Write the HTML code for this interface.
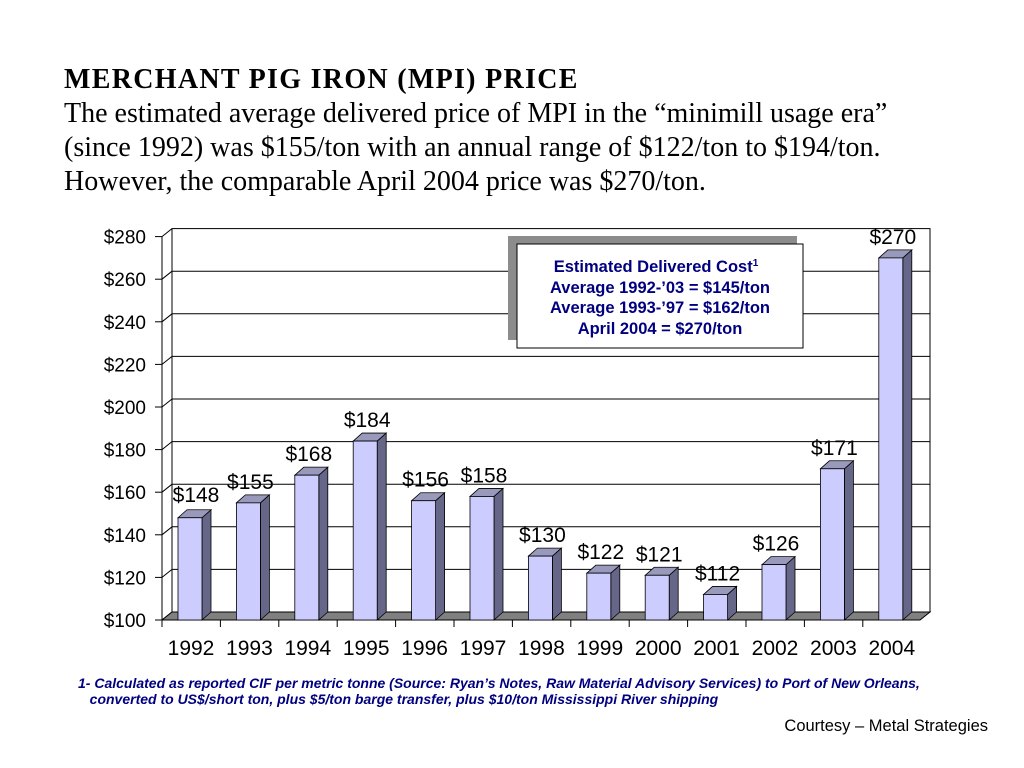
<!DOCTYPE html>
<html><head><meta charset="utf-8"><style>
body{margin:0;width:1024px;height:768px;background:#fff;overflow:hidden;position:relative;font-family:"Liberation Sans",sans-serif}
.t{position:absolute;left:64px;font-family:"Liberation Serif",serif;font-size:28px;line-height:34px;color:#000;white-space:nowrap}
</style></head><body>
<div class="t" style="top:63px"><b style="letter-spacing:1.3px">MERCHANT PIG IRON (MPI) PRICE</b><br>The estimated average delivered price of MPI in the “minimill usage era”<br>(since 1992) was $155/ton with an annual range of $122/ton to $194/ton.<br>However, the comparable April 2004 price was $270/ton.</div>
<svg id="c" width="1024" height="768" style="position:absolute;left:0;top:0"></svg>
<div style="position:absolute;left:78px;top:675px;font:italic bold 14px 'Liberation Sans',sans-serif;color:#000080;line-height:16px;white-space:nowrap">1- Calculated as reported CIF per metric tonne (Source: Ryan’s Notes, Raw Material Advisory Services) to Port of New Orleans,<br>&nbsp;&nbsp;&nbsp;converted to US$/short ton, plus $5/ton barge transfer, plus $10/ton Mississippi River shipping</div>
<div style="position:absolute;right:36px;top:717px;font-size:16.5px">Courtesy – Metal Strategies</div>
<script>
const years=["1992","1993","1994","1995","1996","1997","1998","1999","2000","2001","2002","2003","2004"];
const prices=[148,155,168,184,156,158,130,122,121,112,126,171,270];
const yTicks=[100,120,140,160,180,200,220,240,260,280];
const NS="http://www.w3.org/2000/svg",svg=document.getElementById('c');
function el(t,a,txt){const e=document.createElementNS(NS,t);for(const k in a)e.setAttribute(k,a[k]);if(txt!=null)e.textContent=txt;svg.appendChild(e);return e;}
const x0=162,base=620,dx=10,dy=8,k=2.13,step=58.4,first=190;
const y=v=>base-(v-100)*k, xc=i=>first+i*step;
let w=el('rect',{x:x0+dx,y:y(280)-dy,width:758,height:y(100)-y(280),fill:'#fff',stroke:'#000','stroke-width':1});

yTicks.forEach(v=>{
 if(v>100&&v<280){let g=el('line',{x1:x0+dx,x2:x0+dx+758,y1:y(v)-dy,y2:y(v)-dy,stroke:'#000'});}
 let d=el('line',{x1:x0,y1:y(v),x2:x0+dx,y2:y(v)-dy,stroke:'#000'});
 let t=el('line',{x1:x0-7,x2:x0,y1:y(v),y2:y(v),stroke:'#000'});
 let l=el('text',{x:x0-16,y:y(v)+7,'text-anchor':'end','font-size':19},'$'+v);
});
let fl=el('polygon',{points:`${x0},${base} ${x0+dx},${base-dy} ${x0+dx+758},${base-dy} ${x0+758},${base}`,fill:'#808080',stroke:'#000'});

let ax=el('line',{x1:x0,x2:x0,y1:y(280),y2:base,stroke:'#000'});
let bx=el('line',{x1:x0,x2:x0+758,y1:base,y2:base,stroke:'#000'});
years.forEach((yr,i)=>{
 let tk=el('line',{x1:x0+i*step,x2:x0+i*step,y1:base,y2:base+7,stroke:'#000'});
 const c=xc(i),L=c-12,R=c+12,T=y(prices[i]);
 let s=el('polygon',{points:`${R},${base} ${R},${T} ${R+dx-1},${T-dy} ${R+dx-1},${base-dy}`,fill:'#666688',stroke:'#000','stroke-width':0.8});
 
 let tp=el('polygon',{points:`${L},${T} ${L+dx-1},${T-dy} ${R+dx-1},${T-dy} ${R},${T}`,fill:'#9999bb',stroke:'#000','stroke-width':0.8});
 
 let b=el('rect',{x:L,y:T,width:24,height:base-T,fill:'#ccccff',stroke:'#000','stroke-width':0.8});
 
 let v=el('text',{x:c+(i==0?6:2),y:T-(i==0?16:14),'text-anchor':'middle','font-size':21},'$'+prices[i]);
 
 let xl=el('text',{x:c+1,y:655,'text-anchor':'middle','font-size':21},yr);
 
});
let sh=el('rect',{x:508,y:236,width:289,height:104,fill:'#8c8c8c'});
let bx2=el('rect',{x:517,y:244,width:286,height:104,fill:'#fff',stroke:'#000'});
[["Estimated Delivered Cost",272],["Average 1992-’03 = $145/ton",293],["Average 1993-’97 = $162/ton",313],["April 2004 =  $270/ton",334]].forEach((a,i)=>{
 let t=el('text',{x:i==0?656:660,y:a[1],'text-anchor':'middle','font-size':16.5,'font-weight':'bold',fill:'#000080','xml:space':'preserve'},a[0]);
 
 if(i==0){const s=document.createElementNS(NS,'tspan');s.setAttribute('font-size',10);s.setAttribute('dy',-6);s.textContent='1';t.appendChild(s);}
});
</script>
</body></html>
